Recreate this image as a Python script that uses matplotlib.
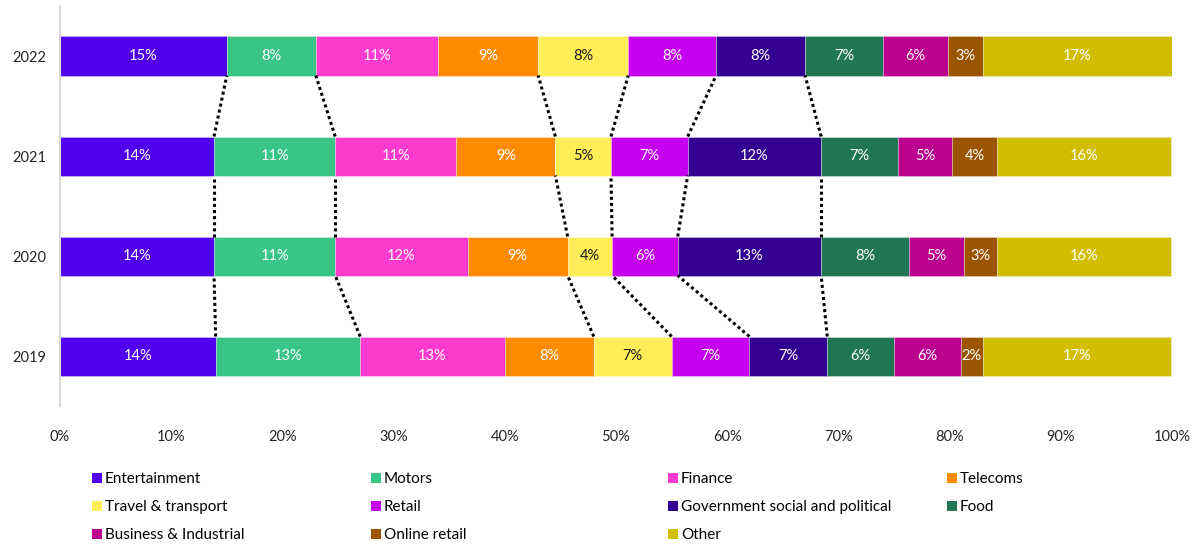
import matplotlib
matplotlib.use("Agg")
import matplotlib.pyplot as plt
import numpy as np
from matplotlib.patches import Patch

plt.rcParams['font.family'] = ['Lato', 'DejaVu Sans']

years = ["2019", "2020", "2021", "2022"]
categories = ["Entertainment", "Motors", "Finance", "Telecoms", "Travel & transport",
              "Retail", "Government social and political", "Food",
              "Business & Industrial", "Online retail", "Other"]
colors = ["#5000EE", "#38C585", "#FF3BCF", "#FF8C00", "#FFEE58", "#C500F0",
          "#330092", "#217653", "#BC0090", "#9B5400", "#D1BE00"]
label_colors = ["white", "white", "white", "white", "#1a1a1a", "white",
                "white", "white", "white", "white", "white"]

# share (%) per category, order of years list
entertainment = [14.0, 13.85, 13.85, 15.0]
motors        = [13.0, 10.9, 10.9, 8.0]
finance       = [13.0, 11.9, 10.9, 11.0]
telecoms      = [8.0, 9.0, 8.9, 9.0]
travel        = [7.0, 4.0, 5.0, 8.1]
retail        = [7.0, 5.9, 6.9, 7.9]
government    = [7.0, 12.9, 12.0, 8.0]
food          = [6.0, 7.9, 6.9, 7.0]
business      = [6.0, 4.9, 4.9, 5.9]
online_retail = [2.0, 3.0, 4.0, 3.1]
other         = [16.9, 15.7, 15.7, 17.0]

series = [entertainment, motors, finance, telecoms, travel, retail,
          government, food, business, online_retail, other]

# boundaries joined by series lines (index of category whose right edge is linked)
linked = [0, 1, 3, 4, 5, 6]

fig = plt.figure(figsize=(11.99, 5.44), dpi=100)
ax = fig.add_axes([60/1199, 138/544, 1112/1199, 400/544])

ypos = np.arange(len(years))
h = 0.39
left = np.zeros(len(years))
ends = []
for name, vals, c, lc in zip(categories, series, colors, label_colors):
    vals = np.array(vals)
    ax.barh(ypos, vals, left=left, height=h, color=c, edgecolor=(1, 1, 1, 0.35),
            linewidth=0.6, label=name)
    for y, l, v in zip(ypos, left, vals):
        ax.text(l + v / 2, y, f"{v:.0f}%", ha="center", va="center",
                color=lc, fontsize=10.5)
    left = left + vals
    ends.append(left.copy())

for k in linked:
    e = ends[k]
    for i in range(len(years) - 1):
        ax.plot([e[i], e[i + 1]], [ypos[i] + h / 2, ypos[i + 1] - h / 2],
                color="black", linewidth=2.2, linestyle=(0, (1, 1)),
                solid_capstyle="butt", dash_capstyle="butt")

ax.set_xlim(0, 100)
ax.set_ylim(-0.5, 3.5)
ax.set_xticks(np.arange(0, 101, 10))
ax.set_xticklabels([f"{t}%" for t in range(0, 101, 10)], fontsize=10.5, color="#262626")
ax.set_yticks(ypos)
ax.set_yticklabels(years, fontsize=10.5, color="#262626")
ax.tick_params(length=0, pad=10)
ax.tick_params(axis="x", pad=17)
for s in ["top", "right", "bottom"]:
    ax.spines[s].set_visible(False)
ax.spines["left"].set_color("#d9d9d9")
ax.spines["left"].set_linewidth(1.5)

# legend: 4 columns, row-major order
col_x = [92, 371, 668, 947]
ncol = 4
for c in range(ncol):
    idx = list(range(c, len(categories), ncol))
    handles = [Patch(facecolor=colors[i], edgecolor="none") for i in idx]
    labels = [categories[i] for i in idx]
    fig.legend(handles, labels, loc="upper left",
               bbox_to_anchor=(col_x[c] / 1199, 1 - 472 / 544),
               frameon=False, fontsize=11, handlelength=0.65, handleheight=0.65,
               handletextpad=0.2, labelspacing=0.93, borderaxespad=0,
               borderpad=0)

fig.savefig("out.png", dpi=100)
